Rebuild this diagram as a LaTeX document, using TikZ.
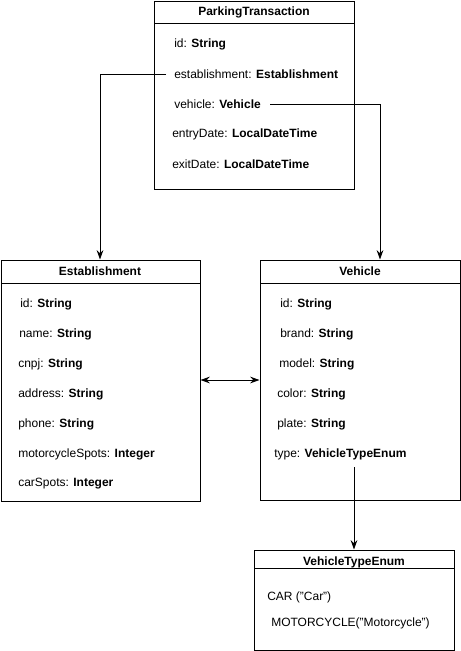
\documentclass[tikz,border=0pt]{standalone}
\usepackage{fontspec}
\setmainfont{Liberation Sans}
\usetikzlibrary{arrows.meta,fit}
\begin{document}
\begin{tikzpicture}[x=0.75pt,y=-0.75pt,
  cls/.style={draw, line width=0.75pt, inner sep=0pt, fit={#1}},
  ttl/.style={font=\fontsize{9}{11}\selectfont\bfseries, inner sep=0pt},
  fld/.style={anchor=west, font=\fontsize{9}{11}\selectfont, inner sep=0pt},
  conn/.style={line width=0.75pt, -{Stealth[length=7pt,width=5pt]}},
  hline/.style={line width=0.75pt}]
\useasboundingbox (0,0) rectangle (461,651);
% ParkingTransaction
\node[cls={(154,1) (354,189)}] (pt) {};
\draw[hline] (154,23) -- (354,23);
\node[ttl] (ptt) at (254,12) {ParkingTransaction};
\node[fld] (pt1) at (174,44) {id: \textbf{String}};
\node[fld] (pt2) at (174,74) {establishment: \textbf{Establishment}};
\node[fld] (pt3) at (174,104) {vehicle: \textbf{Vehicle}};
\node[fld] (pt4) at (172,134) {entryDate: \textbf{LocalDateTime}};
\node[fld] (pt5) at (172,164) {exitDate: \textbf{LocalDateTime}};
% Establishment
\node[cls={(1,260) (200,501)}] (est) {};
\draw[hline] (1,283) -- (200,283);
\node[ttl] (estt) at (100,271) {Establishment};
\node[fld] (e1) at (20,304) {id: \textbf{String}};
\node[fld] (e2) at (19,334) {name: \textbf{String}};
\node[fld] (e3) at (18,364) {cnpj: \textbf{String}};
\node[fld] (e4) at (18,394) {address: \textbf{String}};
\node[fld] (e5) at (18,424) {phone: \textbf{String}};
\node[fld] (e6) at (18,454) {motorcycleSpots: \textbf{Integer}};
\node[fld] (e7) at (18,484) {carSpots: \textbf{Integer}};
% Vehicle
\node[cls={(260,260) (460,500)}] (veh) {};
\draw[hline] (260,283) -- (460,283);
\node[ttl] (veht) at (360,271) {Vehicle};
\node[fld] (v1) at (280,304) {id: \textbf{String}};
\node[fld] (v2) at (280,334) {brand: \textbf{String}};
\node[fld] (v3) at (279,364) {model: \textbf{String}};
\node[fld] (v4) at (277,394) {color: \textbf{String}};
\node[fld] (v5) at (277,424) {plate: \textbf{String}};
\node[fld] (v6) at (274,454) {type: \textbf{VehicleTypeEnum}};
% VehicleTypeEnum
\node[cls={(254,550) (454,650)}] (vte) {};
\draw[hline] (254,568) -- (454,568);
\node[ttl] (vtet) at (354,562) {VehicleTypeEnum};
\node[fld] (c1) at (267,597) {CAR ("Car")};
\node[fld] (c2) at (271,623) {MOTORCYCLE("Motorcycle")};
% connectors
\coordinate (s1) at (166,74);
\coordinate (s2) at (270,104);
\coordinate (s3) at (354,467);
\draw[conn] (s1) -| (est.north -| 100,0);
\draw[conn] (s2) -| (veh.north -| 380,0);
\draw[conn] (s3) -- (vte.north -| 354,0);
\draw[line width=0.75pt, {Stealth[length=7pt,width=5pt]}-{Stealth[length=7pt,width=5pt]}] (est.east |- 0,380) -- (veh.west |- 0,380);
\end{tikzpicture}
\end{document}
